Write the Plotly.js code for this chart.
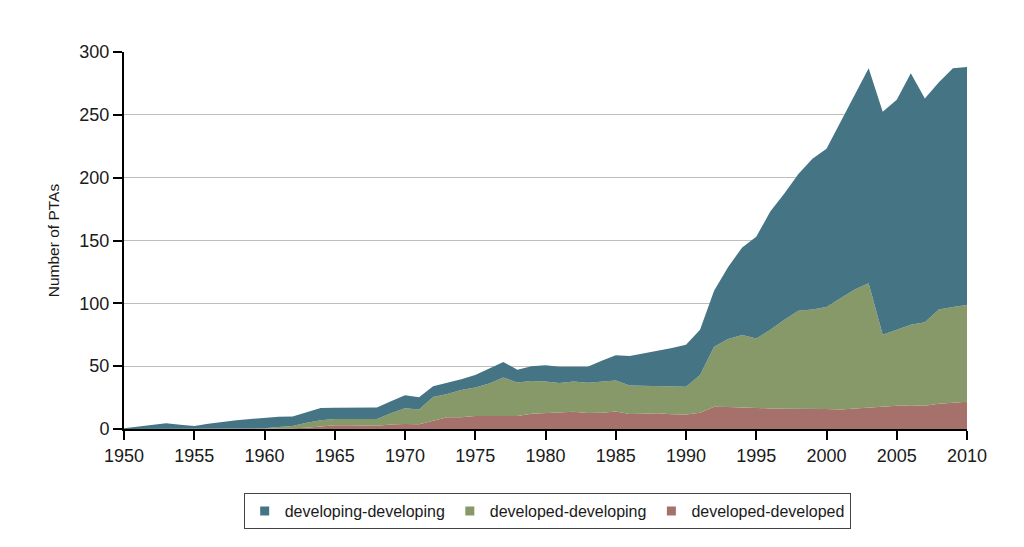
<!DOCTYPE html>
<html>
<head>
<meta charset="utf-8">
<script src="https://cdn.plot.ly/plotly-3.0.1.min.js"></script>
<style>
  html, body { margin: 0; padding: 0; background: #fff; }
  #chart { width: 1024px; height: 547px; }
</style>
</head>
<body>
<div id="chart"></div>
<script>
// ── Data ──
const YEARS = [];
for (let y = 1950; y <= 2010; y++) YEARS.push(y);

// developed-developed (bottom layer)
const DEV_DEV = [
  0, 0, 0, 0, 0, 0, 0, 0, 0, 0,
  0.3, 0.5, 0.5, 1, 2, 3, 3, 2.5, 2.5, 3.5,
  4, 3.7, 6.6, 9.3, 9.3, 10.3, 10.3, 10.3, 10.3, 12.2,
  12.7, 13, 13.8, 12.7, 13, 14, 12, 12.2, 12.5, 11.7,
  11.5, 13, 17.8, 17.5, 17, 16.4, 16.4, 16.2, 16.2, 16,
  16, 15.6, 16.4, 17.2, 18, 18.6, 18.8, 18.6, 20, 20.7,
  21.7,
];

// developed-developing (middle layer)
const DEV_DEVING = [
  0, 0, 0, 0, 0, 0, 0, 0, 0, 0,
  0.2, 1, 1.8, 4, 5, 5, 5, 5.5, 5.5, 9,
  12.5, 11.9, 18.9, 18.5, 21.7, 22.7, 26, 30.7, 26.7, 26,
  25, 23.6, 23.9, 24.2, 24.7, 24.5, 22.7, 22.3, 22, 22.3,
  22.2, 30, 47.7, 54.1, 57.8, 55.6, 62.6, 70.8, 77.8, 79,
  81, 88.4, 94.6, 98.8, 57, 60.4, 64.2, 66.4, 75, 76.3,
  77,
];

// developing-developing (top layer)
const DEVING_DEVING = [
  0.5, 2, 3.4, 4.5, 3.4, 2.4, 4.2, 5.8, 6.9, 8,
  8.5, 8.3, 7.7, 8.5, 9.7, 9, 9, 9, 9.2, 9.5,
  10.3, 9.6, 8.5, 9.1, 8.5, 10, 11.7, 12.3, 10.2, 11.8,
  13, 13, 11.9, 12.7, 16.7, 20.1, 23.3, 25.5, 27.8, 30.5,
  33.3, 36, 44.5, 57.4, 69.7, 81, 94, 100.5, 109, 120,
  126, 140.6, 155, 171, 177.5, 183, 200, 178, 181, 190,
  189.3,
];

const SERIES_NAMES = ["developed-developed", "developed-developing", "developing-developing"];
const SERIES_COLORS = ["#a6706b", "#879869", "#457485"];

const X_TICKS = [1950, 1955, 1960, 1965, 1970, 1975, 1980, 1985, 1990, 1995, 2000, 2005, 2010];
const Y_TICKS = [0, 50, 100, 150, 200, 250, 300];

// ── Chart ─────────────────────────────────────
const FONT = "Liberation Sans, Arial, Helvetica, sans-serif";

function areaTrace(name, values, color) {
  return {
    type: "scatter",
    mode: "lines",
    name: name,
    x: YEARS,
    y: values,
    stackgroup: "pta",
    line: { color: color, width: 0 },
    fillcolor: color,
    showlegend: false,
    hoverinfo: "x+y+name",
  };
}

// legend-only entries so the legend shows small squares
function legendTrace(name, color) {
  return {
    type: "scatter",
    mode: "markers",
    name: name,
    x: [null],
    y: [null],
    marker: { symbol: "square", size: 9, color: color },
    hoverinfo: "skip",
  };
}

const values = [DEV_DEV, DEV_DEVING, DEVING_DEVING];
const traces = [
  ...values.map((v, i) => areaTrace(SERIES_NAMES[i], v, SERIES_COLORS[i])),
  ...[2, 1, 0].map((i) => legendTrace(SERIES_NAMES[i], SERIES_COLORS[i])),
];

const layout = {
  width: 1024,
  height: 547,
  paper_bgcolor: "#ffffff",
  plot_bgcolor: "#ffffff",
  font: { family: FONT, size: 18, color: "#1a1a1a" },
  margin: { l: 124, r: 57, t: 52, b: 118 },
  showlegend: true,
  legend: {
    orientation: "h",
    traceorder: "normal",
    x: 0.502,
    xanchor: "center",
    y: -0.17,
    yanchor: "top",
    bordercolor: "#444444",
    borderwidth: 1,
    font: { family: FONT, size: 16, color: "#1a1a1a" },
    itemwidth: 30,
    tracegroupgap: 0,
  },
  xaxis: {
    range: [1950, 2010],
    tickmode: "array",
    tickvals: X_TICKS,
    ticks: "outside",
    ticklen: 9,
    tickwidth: 2,
    tickcolor: "#000",
    showline: true,
    linecolor: "#000",
    linewidth: 2,
    showgrid: false,
    zeroline: false,
    tickfont: { size: 18 },
    fixedrange: true,
  },
  yaxis: {
    range: [0, 300],
    tickmode: "array",
    tickvals: Y_TICKS,
    ticks: "outside",
    ticklen: 9,
    tickwidth: 2,
    tickcolor: "#000",
    showline: true,
    linecolor: "#000",
    linewidth: 2,
    showgrid: true,
    gridcolor: "#bdbdbd",
    gridwidth: 1,
    zeroline: false,
    tickfont: { size: 18 },
    title: { text: "Number of PTAs", font: { size: 15.5 }, standoff: 16 },
    fixedrange: true,
  },
};

Plotly.newPlot("chart", traces, layout, { displayModeBar: false, staticPlot: true });
</script>
</body>
</html>
